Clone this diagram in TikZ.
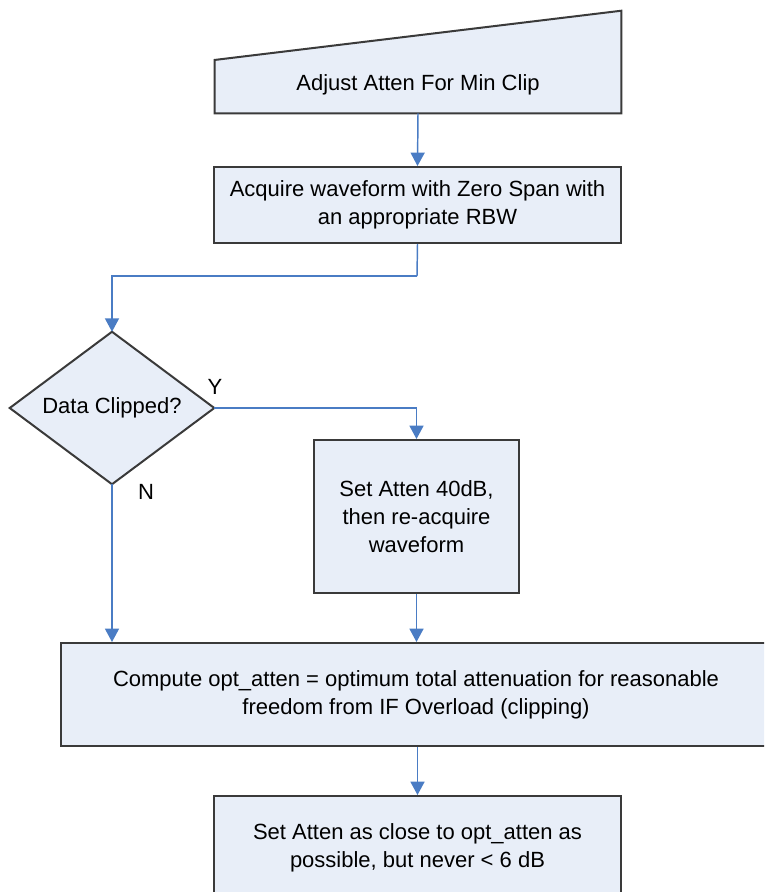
\documentclass[tikz,border=0pt]{standalone}
\usepackage{fontspec}
\setmainfont{Liberation Sans}
\usetikzlibrary{arrows.meta,calc}
\definecolor{boxfill}{HTML}{E8EEF8}
\definecolor{boxline}{HTML}{3A3A3A}
\definecolor{flow}{HTML}{4A7CC4}
\begin{document}
\begin{tikzpicture}[x=0.75pt,y=-0.75pt,
  box/.style={draw=boxline,fill=boxfill,line width=1.5pt,rectangle,inner sep=0pt,align=center,font=\fontsize{16.5pt}{20.8pt}\selectfont},
  ghost/.style={rectangle,inner sep=0pt},
  lbl/.style={font=\fontsize{16.5pt}{20.8pt}\selectfont,inner sep=0pt},
  flowline/.style={draw=flow,line width=1.1pt,-{Triangle[width=10.5pt,length=10pt]}},
  flowplain/.style={draw=flow,line width=1.1pt}]
\useasboundingbox (0,0) rectangle (764,892);
\clip (0,0) rectangle (764,892);
% manual input shape
\node[ghost,minimum width=304.5pt,minimum height=76.5pt] (m) at (418,62) {};
\draw[draw=boxline,fill=boxfill,line width=1.5pt]
  (m.south west) -- (m.south east) -- (m.north east) -- ($(m.south west)!0.52!(m.north west)$) -- cycle;
\node[lbl] (mt) at (418,85) {Adjust Atten For Min Clip};
% box 2
\node[box,minimum width=305.25pt,minimum height=57pt] (b2) at (417.5,205)
  {Acquire waveform with Zero Span with\\an appropriate RBW};
% diamond
\node[ghost,minimum width=153pt,minimum height=114pt] (d) at (112,408) {};
\draw[draw=boxline,fill=boxfill,line width=1.5pt]
  (d.north) -- (d.east) -- (d.south) -- (d.west) -- cycle;
\node[lbl] (dt) at (112,408) {Data Clipped?};
\node[lbl] (y) at (215,387) {Y};
\node[lbl] (n) at (146,492) {N};
% box 3
\node[box,minimum width=153.75pt,minimum height=114.75pt] (b3) at (416.5,516.5)
  {Set Atten 40dB,\\then re-acquire\\waveform};
% box 4
\node[box,minimum width=532.5pt,minimum height=77.25pt] (b4) at (416,694.5)
  {Compute opt\_atten = optimum total attenuation for reasonable\\freedom from IF Overload (clipping)};
% box 5
\node[box,minimum width=305.25pt,minimum height=78pt] (b5) at (417.5,848)
  {Set Atten as close to opt\_atten as\\possible, but never < 6 dB};
% connectors
\coordinate (e1) at (417,276);
\draw[flowline] (m.south) -- (b2.north);
\draw[flowplain] (b2.south) -- (e1);
\draw[flowline] (e1) -| (d.north);
\draw[flowline] (d.east) -| (b3.north);
\draw[flowline] (d.south) -- (d.south |- b4.north);
\draw[flowline] (b3.south) -- (b3.south |- b4.north);
\draw[flowline] (b4.south -| b5.north) -- (b5.north);
\end{tikzpicture}
\end{document}
